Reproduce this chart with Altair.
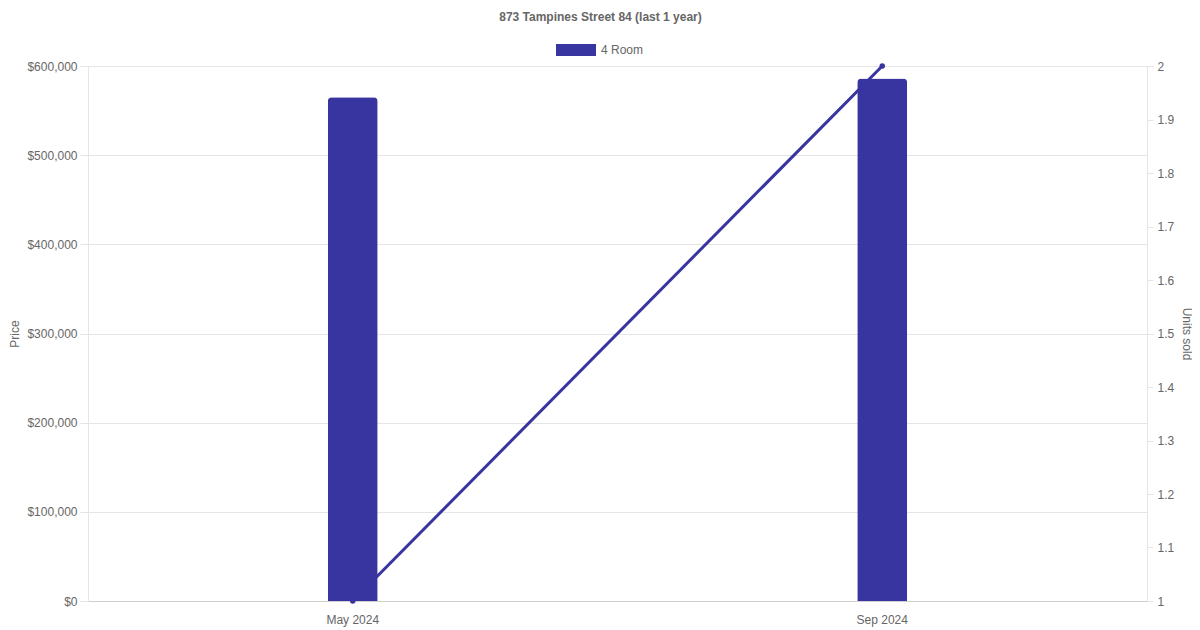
import altair as alt
import pandas as pd

months = ["May 2024", "Sep 2024"]
prices = [565000, 586000]
units = [1, 2]
series = ["4 Room", "4 Room"]

df = pd.DataFrame({"month": months, "price": prices, "units": units, "type": series})

COLOR = "#3935a0"
FONT = "Liberation Sans"

x = alt.X("month:N", sort=months, title=None,
          axis=alt.Axis(labelAngle=0, ticks=False, labelPadding=13, domainColor="#cfcfcf",
                        grid=False))

bars = alt.Chart(df).mark_bar(size=50, cornerRadiusTopLeft=4, cornerRadiusTopRight=4).encode(
    x=x,
    y=alt.Y("price:Q", title="Price", scale=alt.Scale(domain=[0, 600000], nice=False),
            axis=alt.Axis(values=[0, 100000, 200000, 300000, 400000, 500000, 600000],
                          format="$,.0f", ticks=True, tickSize=8, tickColor="#e5e5e5",
                          labelPadding=3, domainColor="#e5e5e5",
                          gridColor="#e5e5e5", titleX=-74, titleY=267.5, titleAngle=270,
                          titleAlign="center", titleBaseline="middle")),
    color=alt.Color("type:N", scale=alt.Scale(domain=["4 Room"], range=[COLOR]),
                    legend=alt.Legend(title=None, orient="none", legendX=468, legendY=-36,
                                      symbolType="M-1,-0.3L1,-0.3L1,0.3L-1,0.3Z",
                                      symbolSize=1600, symbolStrokeWidth=0, symbolOpacity=1,
                                      labelFontSize=12, labelColor="#666", labelFont=FONT,
                                      padding=0, labelOffset=5)),
)

line = alt.Chart(df).mark_line(color=COLOR, strokeWidth=3,
                               point=alt.OverlayMarkDef(color=COLOR, filled=True, size=30)).encode(
    x=x,
    y=alt.Y("units:Q", title="Units sold", scale=alt.Scale(domain=[1, 2], nice=False, zero=False),
            axis=alt.Axis(orient="right", values=[1, 1.1, 1.2, 1.3, 1.4, 1.5, 1.6, 1.7, 1.8, 1.9, 2],
                          format="~g", grid=False, tickSize=6, tickColor="#e5e5e5",
                          domainColor="#e5e5e5", labelPadding=4, titleX=39, titleY=267.5,
                          titleAngle=90, titleAlign="center", titleBaseline="middle")),
)

chart = alt.layer(bars, line).resolve_scale(y="independent").properties(
    width=1059, height=535,
    autosize=alt.AutoSizeParams(type="none"),
    padding={"left": 80, "top": 58, "right": 45, "bottom": 29},
    title=alt.TitleParams("873 Tampines Street 84 (last 1 year)", fontSize=12, fontWeight="bold",
                          color="#666", font=FONT, anchor="middle", frame="group", offset=6,
                          dx=-17),
).configure_view(stroke=None).configure_axis(
    labelFont=FONT, titleFont=FONT, labelFontSize=12, titleFontSize=12,
    labelColor="#666", titleColor="#666", titleFontWeight="normal",
)

chart.save("out.html", embed_options={"renderer": "svg", "actions": False})
